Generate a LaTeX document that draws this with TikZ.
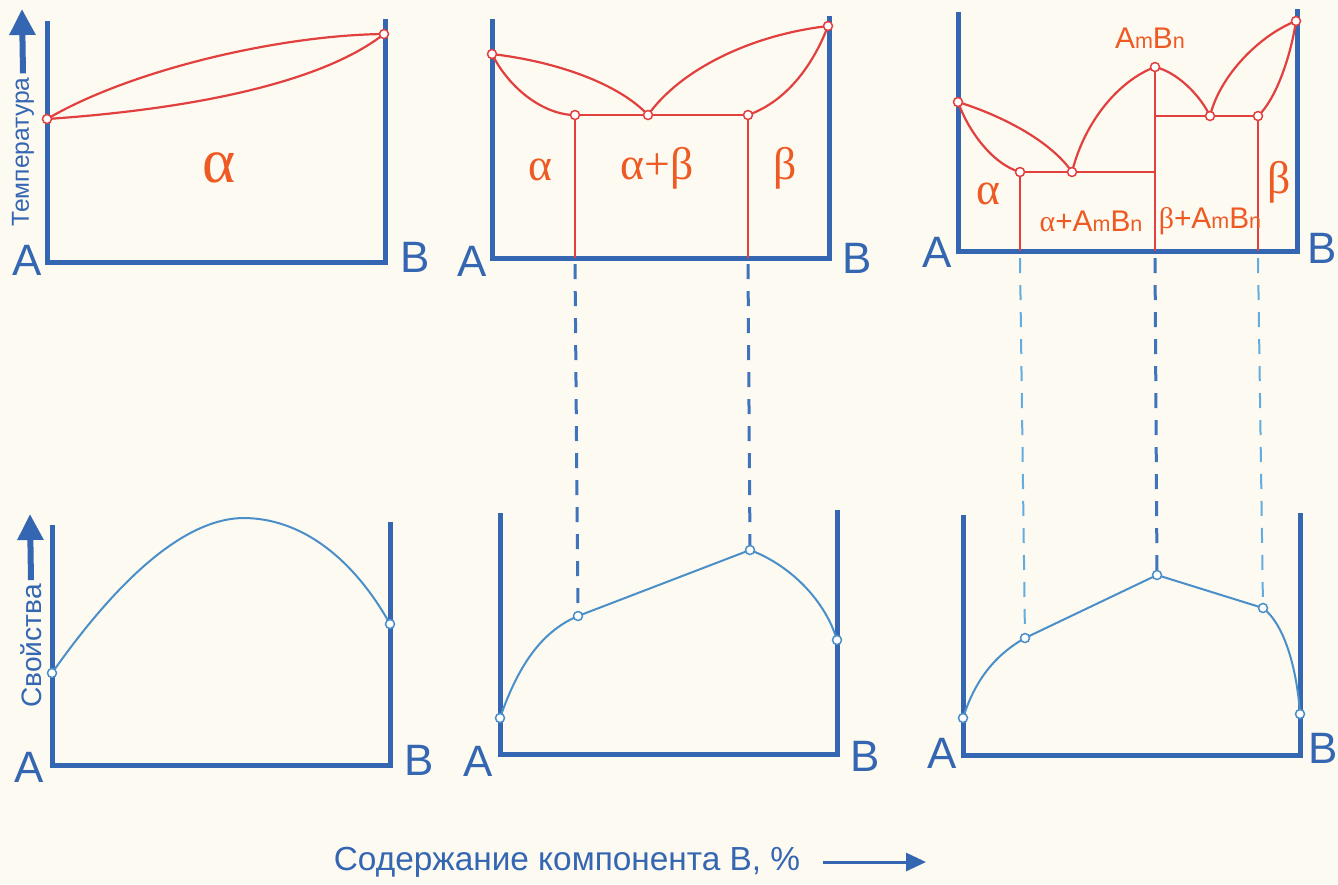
\documentclass[tikz,border=0pt]{standalone}
\usepackage{fontspec}
\setmainfont{Liberation Sans}
\newfontfamily\grk{Liberation Serif}
\usepackage{graphicx}
\usetikzlibrary{arrows.meta,calc}
\definecolor{AxBlue}{HTML}{3566B2}
\definecolor{LnRed}{HTML}{E2403E}
\definecolor{LbOrange}{HTML}{EE5A24}
\definecolor{CvBlue}{HTML}{4A8FC8}
\definecolor{DsBlue}{HTML}{3F74BC}
\definecolor{DsLight}{HTML}{62ACE0}
\definecolor{Paper}{HTML}{FCFAF1}
\newcommand{\smidx}[1]{\scalebox{0.72}{#1}}
\newcommand{\AmBn}{A\smidx{m}B\smidx{n}}

\begin{document}
\begin{tikzpicture}[x=0.1mm, y=-0.1mm,
    ax/.style={draw=AxBlue, line width=0.5mm, line join=miter},
    ln/.style={draw=LnRed, line width=0.22mm},
    vln/.style={draw=LnRed, line width=0.16mm},
    cv/.style={draw=CvBlue, line width=0.2mm},
    dsh/.style={draw=DsBlue, line width=0.3mm, dash pattern=on 1.5mm off 1.2mm},
    dshl/.style={dsh, draw=DsLight, line width=0.2mm},
    rp/.style={circle, draw=LnRed, fill=white, line width=0.15mm, inner sep=0pt, minimum size=0.9mm},
    bp/.style={rp, draw=CvBlue},
    ph/.style={text=LbOrange, font=\grk\fontsize{13}{15}\selectfont},
    phs/.style={text=LbOrange, font=\fontsize{8.5}{10}\selectfont, inner sep=0pt},
    ab/.style={text=AxBlue, font=\fontsize{12.5}{14}\selectfont, inner sep=0pt},
    vlab/.style={text=AxBlue, rotate=90, inner sep=1pt},
    tarr/.style={draw=AxBlue, line width=0.6mm, -{Triangle[length=2.6mm, width=2.5mm]}}]
  \fill[Paper] (0,0) rectangle (1338,884);
  \useasboundingbox (0,0) rectangle (1338,884);

  % axes
  \draw[ax] (47,21) -- (47,262) -- (385,262) -- (385,19);
  \draw[ax] (492,19) -- (492,258) -- (829,258) -- (829,16);
  \draw[ax] (958,12) -- (958,251) -- (1297,251) -- (1297,9);
  \draw[ax] (52,525) -- (52,765) -- (390,765) -- (390,522);
  \draw[ax] (500,513) -- (500,754) -- (837,754) -- (837,510);
  \draw[ax] (963,515) -- (963,755) -- (1300,755) -- (1300,513);

  % points of the state diagrams
  \coordinate (a1) at (47,119);   \coordinate (b1) at (384,34);
  \coordinate (a2) at (492,54);   \coordinate (s2l) at (575,115);
  \coordinate (e2) at (648,115);  \coordinate (s2r) at (748,115);
  \coordinate (b2) at (828,26);
  \coordinate (a3) at (958,102);  \coordinate (s3a) at (1020,172);
  \coordinate (e3a) at (1072,172); \coordinate (m3) at (1155,67);
  \coordinate (e3b) at (1210,116); \coordinate (s3b) at (1258,116);
  \coordinate (b3) at (1296,21);
  % points of the property curves
  \coordinate (c1a) at (52,673);  \coordinate (c1b) at (390,624);
  \coordinate (c2a) at (500,718); \coordinate (c2b) at (578,616);
  \coordinate (c2c) at (750,550); \coordinate (c2d) at (837,640);
  \coordinate (c3a) at (963,718); \coordinate (c3b) at (1025,638);
  \coordinate (c3c) at (1157,575); \coordinate (c3d) at (1263,608);
  \coordinate (c3e) at (1300,714);

  % projection lines
  \draw[dsh] (s2l |- 0,264) -- (c2b);
  \draw[dsh] (s2r |- 0,264) -- (c2c);
  \draw[dshl] (s3a |- 0,258) -- (c3b);
  \draw[dsh] (m3 |- 0,258) -- (c3c);
  \draw[dshl] (s3b |- 0,258) -- (c3d);

  % diagram 1
  \draw[ln] (a1) .. controls (130,70) and (280,35) .. (b1);
  \draw[ln] (a1) .. controls (150,112) and (310,92) .. (b1);
  % diagram 2
  \draw[ln] (a2) .. controls (560,62) and (620,85) .. (e2);
  \draw[ln] (a2) .. controls (510,90) and (545,115) .. (s2l);
  \draw[ln] (e2) .. controls (680,70) and (750,35) .. (b2);
  \draw[ln] (s2r) .. controls (790,100) and (815,60) .. (b2);
  \draw[ln] (s2l) -- (s2r);
  \draw[vln] (s2l) -- (s2l |- 0,258);
  \draw[vln] (s2r) -- (s2r |- 0,258);
  % diagram 3
  \draw[ln] (a3) .. controls (1000,115) and (1050,140) .. (e3a);
  \draw[ln] (a3) .. controls (970,135) and (995,165) .. (s3a);
  \draw[ln] (e3a) .. controls (1085,120) and (1120,80) .. (m3);
  \draw[ln] (m3) .. controls (1177,72) and (1200,95) .. (e3b);
  \draw[ln] (e3b) .. controls (1220,75) and (1260,35) .. (b3);
  \draw[ln] (s3b) .. controls (1275,100) and (1290,60) .. (b3);
  \draw[ln] (s3a) -- (m3 |- s3a);
  \draw[ln] (m3 |- s3b) -- (s3b);
  \draw[vln] (m3) -- (m3 |- 0,251);
  \draw[vln] (s3a) -- (s3a |- 0,251);
  \draw[vln] (s3b) -- (s3b |- 0,251);

  % property curves
  \draw[cv] (c1a) .. controls (95,612) and (170,519) .. (243,518)
    .. controls (310,518) and (360,570) .. (c1b);
  \draw[cv] (c2a) .. controls (520,660) and (545,630) .. (c2b) -- (c2c)
    .. controls (790,565) and (825,600) .. (c2d);
  \draw[cv] (c3a) .. controls (975,680) and (995,655) .. (c3b) -- (c3c) -- (c3d)
    .. controls (1285,625) and (1297,670) .. (c3e);

  \foreach \p in {a1,b1,a2,s2l,e2,s2r,b2,a3,s3a,e3a,m3,e3b,s3b,b3}
    \node[rp] (d-\p) at (\p) {};
  \foreach \p in {c1a,c1b,c2a,c2b,c2c,c2d,c3a,c3b,c3c,c3d,c3e}
    \node[bp] (d-\p) at (\p) {};

  % phase labels
  \node[ph, font=\grk\fontsize{18}{20}\selectfont] (ph1) at (219,168) {α};
  \node[ph] (ph2a) at (540,170) {α};
  \node[ph] (ph2ab) at (657,168) {α+β};
  \node[ph] (ph2b) at (785,168) {β};
  \node[ph] (ph3a) at (988,194) {α};
  \node[ph] (ph3b) at (1279,182) {β};
  \node[phs] (ph3c) at (1150,38) {\AmBn};
  \node[phs] (ph3ac) at (1091,221) {{\grk α}+\AmBn};
  \node[phs] (ph3bc) at (1210,221) {{\grk β}+\AmBn};

  % component labels
  \foreach \n/\x/\y in {A1/27/260, A2/472/261, A3/937/252, A4/29/767, A5/478/761, A6/942/753}
    \node[ab] (\n) at (\x,\y) {A};
  \foreach \n/\x/\y in {B1/415/257, B2/857/258, B3/1322/248, B4/419/760, B5/865/756, B6/1323/748}
    \node[ab] (\n) at (\x,\y) {B};

  % axis titles
  \node[vlab, font=\fontsize{7}{8}\selectfont] (temp) at (23,152) {Температура};
  \coordinate (ttip) at (22,9);
  \draw[tarr] (temp.east) -- (ttip);
  \node[vlab, font=\fontsize{8}{9}\selectfont] (prop) at (31,646) {Свойства};
  \coordinate (ptip) at (30,514);
  \draw[tarr] (prop.east) -- (ptip);
  \node[text=AxBlue, font=\fontsize{9.5}{11}\selectfont] (xlab) at (567,862)
    {Содержание компонента В, \%};
  \coordinate (xtip) at (926,862);
  \draw[draw=AxBlue, line width=0.3mm, -{Triangle[length=2mm, width=1.8mm]}]
    ([xshift=1mm]xlab.east) -- (xtip);
\end{tikzpicture}
\end{document}
